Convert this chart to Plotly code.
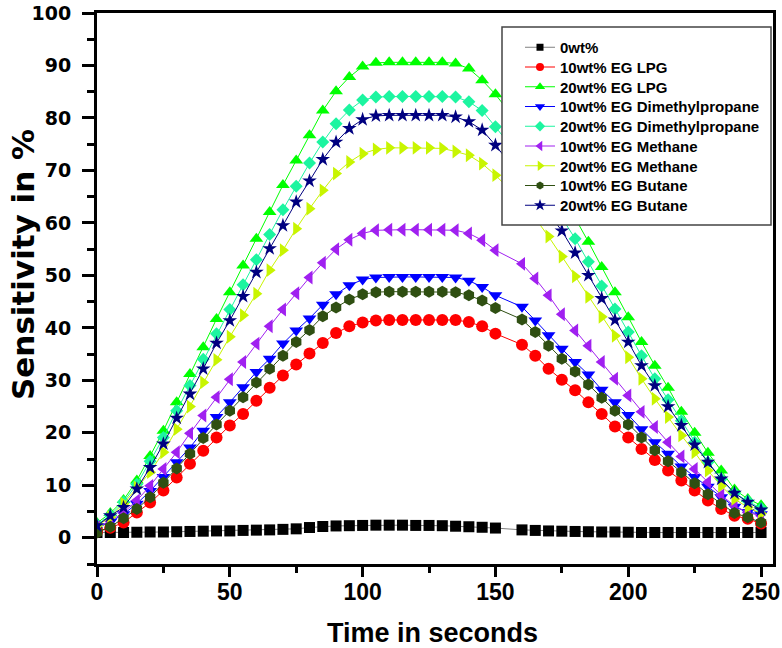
import plotly.graph_objects as go

# ---------------- data ----------------
time_s = [0, 5, 10, 15, 20, 25, 30, 35, 40, 45, 50, 55, 60, 65, 70, 75, 80, 85, 90, 95,
          100, 105, 110, 115, 120, 125, 130, 135, 140, 145, 150,
          160, 165, 170, 175, 180, 185, 190, 195, 200, 205, 210, 215, 220, 225, 230,
          235, 240, 245, 250]

wt0 = [1.0, 1.0, 1.0, 1.05, 1.1, 1.1, 1.15, 1.2, 1.25, 1.3, 1.3, 1.4, 1.45, 1.5, 1.6, 1.7,
       1.95, 2.15, 2.25, 2.3, 2.35, 2.4, 2.4, 2.4, 2.35, 2.35, 2.3, 2.2, 2.1, 2.0, 1.85,
       1.5, 1.4, 1.3, 1.25, 1.2, 1.15, 1.1, 1.1, 1.05, 1.0, 1.0, 1.0, 1.0, 1.0, 1.0,
       1.0, 1.0, 1.0, 1.0]

eg10_lpg = [1.2, 1.9, 2.9, 4.8, 6.7, 9.0, 11.5, 14.1, 16.6, 19.1, 21.4, 23.6, 26.1, 28.6,
            30.9, 33.0, 35.1, 37.1, 39.0, 40.3, 41.0, 41.4, 41.5, 41.5, 41.5, 41.5, 41.5,
            41.5, 41.1, 40.3, 38.9,
            36.8, 34.7, 32.2, 30.1, 28.1, 25.8, 23.6, 21.2, 19.1, 16.9, 14.8, 12.8, 10.9,
            9.0, 7.1, 5.5, 4.2, 3.6, 2.7]

eg20_lpg = [2.8, 4.7, 7.2, 10.9, 15.6, 20.4, 25.8, 31.2, 36.3, 41.7, 46.8, 51.9, 57.0, 62.1,
            67.2, 71.9, 76.7, 81.4, 85.1, 87.8, 89.8, 90.5, 90.6, 90.6, 90.6, 90.6, 90.6,
            90.4, 89.4, 87.2, 84.5,
            78.0, 74.2, 70.0, 65.5, 61.0, 56.4, 51.6, 46.8, 42.0, 37.3, 32.8, 28.6, 24.0,
            20.0, 16.2, 12.8, 9.2, 7.4, 6.2]

eg10_dmp = [2.0, 3.0, 4.5, 6.5, 8.9, 11.6, 14.4, 17.2, 20.4, 23.0, 25.8, 28.7, 31.6, 34.1,
            37.0, 39.5, 41.8, 44.4, 46.4, 48.1, 49.2, 49.6, 49.7, 49.7, 49.7, 49.7, 49.7,
            49.6, 49.0, 47.8, 46.2,
            44.0, 41.4, 38.6, 36.0, 33.5, 31.1, 28.2, 25.8, 23.4, 20.7, 18.2, 16.0, 13.6,
            11.6, 9.7, 7.7, 5.9, 4.9, 4.5]

eg20_dmp = [2.5, 4.3, 6.8, 10.2, 14.6, 19.1, 24.2, 29.0, 34.0, 38.9, 43.5, 48.2, 53.0, 57.8,
            62.5, 67.0, 71.4, 75.4, 78.9, 81.5, 83.4, 84.0, 84.1, 84.1, 84.1, 84.1, 84.1,
            84.0, 83.1, 81.4, 78.3,
            72.0, 68.5, 64.8, 61.0, 57.0, 52.6, 48.0, 43.6, 39.2, 34.7, 30.3, 26.3, 22.3,
            18.2, 14.4, 11.2, 8.5, 7.0, 5.6]

eg10_methane = [2.0, 3.2, 4.8, 7.1, 9.9, 13.1, 16.3, 19.9, 23.3, 26.8, 30.2, 33.5, 37.0,
                40.3, 43.5, 46.6, 49.6, 52.4, 55.0, 56.8, 58.0, 58.6, 58.7, 58.7, 58.7,
                58.7, 58.7, 58.6, 58.0, 56.7, 54.8,
                52.2, 49.4, 46.2, 42.6, 39.5, 36.6, 33.5, 30.3, 27.1, 24.0, 21.1, 18.2,
                15.5, 13.1, 10.6, 8.1, 6.1, 4.8, 4.2]

eg20_methane = [2.3, 3.9, 6.5, 9.6, 12.5, 16.3, 20.7, 25.0, 29.6, 33.9, 38.3, 42.4, 46.5,
                51.0, 54.8, 58.9, 62.7, 66.2, 69.4, 71.6, 73.2, 74.0, 74.3, 74.3, 74.3,
                74.3, 74.2, 73.6, 72.9, 71.3, 69.1,
                64.0, 60.9, 57.4, 53.6, 49.8, 45.9, 42.1, 38.5, 34.4, 30.3, 26.5, 23.0,
                19.5, 16.3, 12.8, 9.9, 7.4, 5.8, 4.6]

eg10_butane = [1.0, 2.1, 3.7, 5.5, 7.7, 10.5, 13.2, 16.0, 19.0, 21.6, 24.2, 26.8, 29.6,
               32.2, 34.7, 37.3, 39.6, 42.2, 43.9, 45.4, 46.4, 46.8, 46.9, 46.9, 46.9,
               46.9, 46.9, 46.8, 46.2, 45.2, 43.8,
               41.6, 39.2, 36.6, 34.1, 31.7, 29.2, 26.7, 24.2, 21.6, 19.1, 16.7, 14.6,
               12.5, 10.4, 8.3, 6.5, 4.7, 3.9, 2.9]

eg20_butane = [2.3, 4.2, 5.8, 9.3, 13.4, 17.9, 22.8, 27.4, 32.2, 37.1, 41.4, 46.0, 50.6,
               55.1, 59.5, 64.0, 68.0, 72.1, 75.4, 78.0, 79.7, 80.4, 80.5, 80.5, 80.5,
               80.5, 80.5, 80.2, 79.3, 77.7, 74.8,
               68.5, 65.0, 61.8, 58.5, 54.3, 50.0, 45.6, 41.5, 37.3, 32.8, 29.0, 25.0,
               21.4, 17.7, 14.4, 11.2, 8.5, 6.8, 5.3]

series_names = ["0wt%", "10wt% EG LPG", "20wt% EG LPG", "10wt% EG Dimethylpropane",
                "20wt% EG Dimethylpropane", "10wt% EG Methane", "20wt% EG Methane",
                "10wt% EG Butane", "20wt% EG Butane"]
series_values = [wt0, eg10_lpg, eg20_lpg, eg10_dmp, eg20_dmp, eg10_methane,
                 eg20_methane, eg10_butane, eg20_butane]

x_tick_vals = [0, 50, 100, 150, 200, 250]
y_tick_vals = [0, 10, 20, 30, 40, 50, 60, 70, 80, 90, 100]

# ---------------- styles ----------------
marker_colors = ["#000000", "#FF0000", "#00FF00", "#0000FF", "#1CF5A0",
                 "#A020F0", "#C8F500", "#2F4F12", "#000080"]
line_colors = ["#808080", "#FF0000", "#00FF00", "#0000FF", "#1CF5A0",
               "#A020F0", "#C8F500", "#2F4F12", "#000080"]
symbols = ["square", "circle", "triangle-up", "triangle-down", "diamond",
           "triangle-left", "triangle-right", "hexagon", "star"]
plot_sizes = [11, 12, 12, 12, 10, 12, 12, 12, 11]
legend_sizes = [7, 8, 9, 9, 8, 9, 9, 8, 9]

# body margin is removed by the post script, so the figure fills the page exactly
L, R, T, B = 97, 9, 13, 84
W, H = 782, 648
pw, ph = W - L - R, H - T - B


def px_x(p):
    return (p - L) / pw


def px_y(p):
    return (H - B - p) / ph


legend_names = ["legend"] + ["legend%d" % i for i in range(2, 10)]
row_y0, row_step = 47.5, 19.75

fig = go.Figure()

for name, vals, mc, lc, sym, sz in zip(series_names, series_values, marker_colors,
                                        line_colors, symbols, plot_sizes):
    fig.add_trace(go.Scatter(
        x=time_s, y=vals, mode="lines+markers", name=name, showlegend=False,
        line=dict(color=lc, width=1),
        marker=dict(symbol=sym, size=sz, color=mc, line=dict(width=0)),
    ))

# legend entries (smaller symbols, like the original legend)
for name, mc, lc, sym, sz, lg in zip(series_names, marker_colors, line_colors, symbols,
                                     legend_sizes, legend_names):
    fig.add_trace(go.Scatter(
        x=[None], y=[None], mode="lines+markers", name=name, showlegend=True,
        legend=lg,
        line=dict(color=lc, width=1),
        marker=dict(symbol=sym, size=sz, color=mc, line=dict(width=0)),
    ))

legend_font = dict(family="Liberation Sans, Arial, sans-serif", size=15, color="black",
                   weight="bold")
legend_layouts = {}
for i, lg in enumerate(legend_names):
    legend_layouts[lg] = dict(
        x=px_x(520), y=px_y(row_y0 + i * row_step), xanchor="left", yanchor="middle",
        bgcolor="rgba(0,0,0,0)", borderwidth=0, font=legend_font,
    )

fig.update_layout(
    width=W, height=H, autosize=False,
    margin=dict(l=L, r=R, t=T, b=B, pad=0, autoexpand=False),
    paper_bgcolor="white", plot_bgcolor="white",
    font=dict(family="Liberation Sans, Arial, sans-serif", color="black"),
    showlegend=True,
    shapes=[dict(type="rect", xref="paper", yref="paper",
                 x0=px_x(502), x1=px_x(771), y0=px_y(225), y1=px_y(27),
                 line=dict(color="#444444", width=1.5), fillcolor="white",
                 layer="above")],
    annotations=[
        dict(text="<b>Time in seconds</b>", xref="paper", yref="paper",
             x=px_x(432), y=px_y(633), xanchor="center", yanchor="middle",
             showarrow=False, borderpad=0,
             font=dict(family="Liberation Sans, Arial, sans-serif", size=27,
                       color="black")),
        dict(text="<b>Sensitivity in %</b>", xref="paper", yref="paper",
             x=px_x(23), y=px_y(265), xanchor="center", yanchor="middle",
             textangle=-90, showarrow=False, borderpad=0,
             font=dict(family="DejaVu Sans, sans-serif", size=31, color="black")),
    ],
    **legend_layouts,
)

fig.update_xaxes(
    range=[0, 254.5], tickmode="array", tickvals=x_tick_vals, automargin=False,
    showline=True, linewidth=3, linecolor="black", mirror=True,
    ticks="outside", ticklen=10, tickwidth=3, tickcolor="black",
    ticklabelstandoff=-5, ticklabeloverflow="allow",
    minor=dict(dtick=25, tick0=0, ticks="outside", ticklen=6, tickwidth=3,
               tickcolor="black"),
    showgrid=False, zeroline=False,
    tickfont=dict(family="Liberation Sans, Arial, sans-serif", size=23,
                  color="black", weight="bold"),
)
fig.update_yaxes(
    range=[-5, 100], tickmode="array", tickvals=y_tick_vals, automargin=False,
    showline=True, linewidth=3, linecolor="black", mirror=True,
    ticks="outside", ticklen=12, tickwidth=3, tickcolor="black",
    ticklabelstandoff=7, ticklabeloverflow="allow",
    minor=dict(dtick=5, tick0=0, ticks="outside", ticklen=7, tickwidth=3,
               tickcolor="black"),
    showgrid=False, zeroline=False,
    tickfont=dict(family="DejaVu Sans, sans-serif", size=19, color="black",
                  weight="bold"),
)

fig.write_html("out.html",
               config={"displayModeBar": False},
               post_script="document.body.style.margin='0';"
                           "document.body.style.overflow='hidden';")
